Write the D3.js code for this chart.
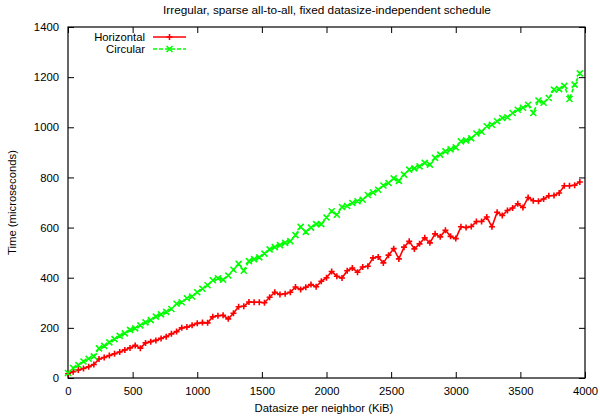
<!DOCTYPE html>
<html>
<head>
<meta charset="utf-8">
<script src="https://cdn.jsdelivr.net/npm/d3@7"></script>
<style>
  body { margin: 0; background: #fff; }
  text { font-family: "Liberation Sans", Arial, sans-serif; font-size: 11.3px; fill: #000; }
</style>
</head>
<body>
<div id="chart"></div>
<script>
// Datasize per neighbor (KiB)
const sizes = [
  0, 40, 80, 120, 160, 200, 240, 280, 320, 360,
  400, 440, 480, 520, 560, 600, 640, 680, 720, 760,
  800, 840, 880, 920, 960, 1000, 1040, 1080, 1120, 1160,
  1200, 1240, 1280, 1320, 1360, 1400, 1440, 1480, 1520, 1560,
  1600, 1640, 1680, 1720, 1760, 1800, 1840, 1880, 1920, 1960,
  2000, 2040, 2080, 2120, 2160, 2200, 2240, 2280, 2320, 2360,
  2400, 2440, 2480, 2520, 2560, 2600, 2640, 2680, 2720, 2760,
  2800, 2840, 2880, 2920, 2960, 3000, 3040, 3080, 3120, 3160,
  3200, 3240, 3280, 3320, 3360, 3400, 3440, 3480, 3520, 3560,
  3600, 3640, 3680, 3720, 3760, 3800, 3840, 3880, 3920, 3960
];

// Time (microseconds)
const horizontal = [
  17, 25, 32, 38, 45, 54, 76, 82, 90, 97,
  104, 112, 120, 130, 119, 140, 145, 150, 158, 165,
  176, 185, 200, 203, 210, 218, 221, 220, 244, 248,
  250, 236, 258, 284, 286, 303, 302, 302, 300, 322,
  342, 333, 336, 342, 363, 353, 362, 373, 364, 386,
  400, 425, 406, 399, 428, 439, 422, 443, 446, 479,
  483, 459, 490, 516, 475, 522, 545, 515, 535, 559,
  539, 575, 563, 589, 565, 556, 603, 600, 604, 624,
  624, 642, 603, 661, 648, 668, 678, 695, 680, 720,
  707, 705, 714, 727, 728, 738, 767, 767, 769, 782
];

const circular = [
  20, 40, 52, 66, 77, 86, 118, 128, 142, 155,
  168, 178, 192, 198, 210, 222, 231, 245, 254, 264,
  275, 296, 302, 318, 325, 342, 356, 370, 390, 398,
  392, 409, 432, 455, 428, 466, 474, 481, 496, 513,
  522, 530, 539, 546, 570, 603, 583, 600, 614, 614,
  640, 665, 651, 682, 686, 698, 705, 711, 730, 740,
  751, 768, 778, 796, 786, 811, 831, 836, 844, 858,
  851, 878, 891, 904, 912, 920, 944, 948, 956, 975,
  982, 1004, 1010, 1024, 1037, 1040, 1057, 1070, 1078, 1090,
  1057, 1107, 1098, 1117, 1150, 1152, 1165, 1113, 1170, 1215
];

const xTicks = [0, 500, 1000, 1500, 2000, 2500, 3000, 3500, 4000];
const yTicks = [0, 200, 400, 600, 800, 1000, 1200, 1400];

const series = [
  { name: "Horizontal", values: horizontal, color: "#ff0000", dash: null, marker: "plus" },
  { name: "Circular", values: circular, color: "#00ff00", dash: "4,2", marker: "cross" }
];

const width = 600, height = 418;
const margin = { left: 68, right: 15, top: 27, bottom: 40 };

const svg = d3.select("#chart").append("svg")
  .attr("width", width)
  .attr("height", height);

const x = d3.scaleLinear().domain([0, 4000]).range([margin.left, width - margin.right]);
const y = d3.scaleLinear().domain([0, 1400]).range([height - margin.bottom, margin.top]);

// ticks on all four sides, pointing inward
const tickLen = 6;
svg.append("g")
  .attr("transform", `translate(0,${y(0)})`)
  .call(d3.axisBottom(x).tickValues(xTicks).tickSize(-tickLen).tickPadding(9).tickFormat(d3.format("d")))
  .call(g => g.select(".domain").remove());
svg.append("g")
  .attr("transform", `translate(0,${y(1400)})`)
  .call(d3.axisTop(x).tickValues(xTicks).tickSize(-tickLen).tickFormat(""))
  .call(g => g.select(".domain").remove());
svg.append("g")
  .attr("transform", `translate(${x(0)},0)`)
  .call(d3.axisLeft(y).tickValues(yTicks).tickSize(-tickLen).tickPadding(9).tickFormat(d3.format("d")))
  .call(g => g.select(".domain").remove());
svg.append("g")
  .attr("transform", `translate(${x(4000)},0)`)
  .call(d3.axisRight(y).tickValues(yTicks).tickSize(-tickLen).tickFormat(""))
  .call(g => g.select(".domain").remove());

svg.selectAll(".tick line").attr("stroke", "#000");
svg.selectAll(".tick text").style("font-size", "11.3px").attr("fill", "#000");

// frame
svg.append("rect")
  .attr("x", x(0))
  .attr("y", y(1400))
  .attr("width", x(4000) - x(0))
  .attr("height", y(0) - y(1400))
  .attr("fill", "none")
  .attr("stroke", "#000")
  .attr("stroke-width", 1.2);

function markerPath(type, cx, cy, r) {
  if (type === "plus") {
    return `M${cx - r},${cy}L${cx + r},${cy}M${cx},${cy - r}L${cx},${cy + r}`;
  }
  return `M${cx - r},${cy - r}L${cx + r},${cy + r}M${cx - r},${cy + r}L${cx + r},${cy - r}`;
}

const line = d3.line().x(d => x(d[0])).y(d => y(d[1]));

series.forEach(s => {
  const pts = sizes.map((v, i) => [v, s.values[i]]);
  svg.append("path")
    .datum(pts)
    .attr("d", line)
    .attr("fill", "none")
    .attr("stroke", s.color)
    .attr("stroke-width", 1.6)
    .attr("stroke-dasharray", s.dash);
  svg.append("path")
    .attr("d", pts.map(p => markerPath(s.marker, x(p[0]), y(p[1]), 3)).join(""))
    .attr("fill", "none")
    .attr("stroke", s.color)
    .attr("stroke-width", 1.6);
});

// legend
series.forEach((s, i) => {
  const ly = 37 + i * 12;
  svg.append("text")
    .attr("x", 145)
    .attr("y", ly)
    .attr("dy", "0.35em")
    .attr("text-anchor", "end")
    .text(s.name);
  svg.append("line")
    .attr("x1", 153).attr("x2", 186)
    .attr("y1", ly).attr("y2", ly)
    .attr("stroke", s.color)
    .attr("stroke-width", 1.6)
    .attr("stroke-dasharray", s.dash);
  svg.append("path")
    .attr("d", markerPath(s.marker, 169.5, ly, 3))
    .attr("stroke", s.color)
    .attr("stroke-width", 1.6);
});

// title and axis labels
svg.append("text")
  .attr("x", 327)
  .attr("y", 14)
  .attr("text-anchor", "middle")
  .style("font-size", "11.8px")
  .text("Irregular, sparse all-to-all, fixed datasize-independent schedule");

svg.append("text")
  .attr("x", 324)
  .attr("y", 412)
  .attr("text-anchor", "middle")
  .text("Datasize per neighbor (KiB)");

svg.append("text")
  .attr("transform", `translate(16,${(y(0) + y(1400)) / 2}) rotate(-90)`)
  .attr("text-anchor", "middle")
  .text("Time (microseconds)");
</script>
</body>
</html>
